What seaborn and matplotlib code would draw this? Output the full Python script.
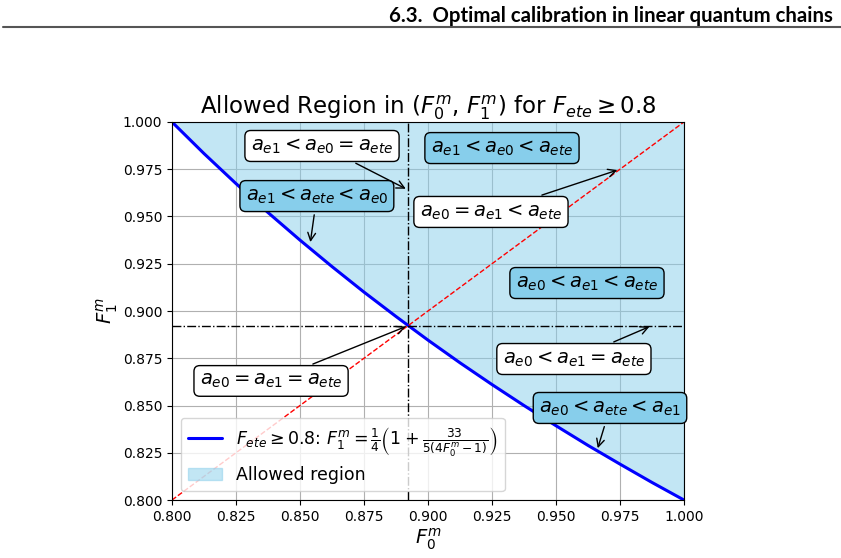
import numpy as np
import pandas as pd
import matplotlib
matplotlib.use('Agg')
import matplotlib.pyplot as plt
import seaborn as sns

# values
f0_vals = [0.800, 0.8125, 0.825, 0.8375, 0.850, 0.8625, 0.875, 0.8875, 0.900,
           0.9125, 0.925, 0.9375, 0.950, 0.9625, 0.975, 0.9875, 1.000]
f1_vals = [1.000, 0.9833, 0.9674, 0.9521, 0.9375, 0.9235, 0.910, 0.8971, 0.8846,
           0.8726, 0.8611, 0.850, 0.8393, 0.8289, 0.8190, 0.8093, 0.800]
diag_vals = [0.800, 1.000]
cross_val = 0.8923

region_labels = [r'$a_{e1} < a_{e0} = a_{ete}$', r'$a_{e1} < a_{e0} < a_{ete}$',
                 r'$a_{e1} < a_{ete} < a_{e0}$', r'$a_{e0} = a_{e1} < a_{ete}$',
                 r'$a_{e0} < a_{e1} < a_{ete}$', r'$a_{e0} < a_{e1} = a_{ete}$',
                 r'$a_{e0} < a_{ete} < a_{e1}$', r'$a_{e0} = a_{e1} = a_{ete}$']

df = pd.DataFrame({'F0': f0_vals, 'F1': f1_vals})

sns.set_style('ticks')
plt.rcParams['font.family'] = ['DejaVu Sans']
plt.rcParams.update({'text.color': 'black', 'axes.labelcolor': 'black',
                     'xtick.color': 'black', 'ytick.color': 'black'})

fig = plt.figure(figsize=(8.41, 5.58), dpi=100)
ax = fig.add_axes([0.2045, 0.1039, 0.6088, 0.6775])

# page header
fig.text(0.990, 0.972, '6.3.  Optimal calibration in linear quantum chains',
         ha='right', va='center', fontsize=14.7, fontweight='bold',
         family=['Lato', 'DejaVu Sans'])
fig.add_artist(plt.Line2D([0.003, 1.0], [0.951, 0.951], color='#555555', lw=1.5))

ax.fill_between(df['F0'], df['F1'], 1.0, color='skyblue', alpha=0.5,
                label='Allowed region')
sns.lineplot(data=df, x='F0', y='F1', color='blue', lw=2.2, ax=ax,
             label=r'$F_{ete} \geq 0.8$: $F_1^m = \frac{1}{4}\left(1 + \frac{33}{5(4F_0^m - 1)}\right)$')
ax.plot(diag_vals, diag_vals, 'r--', lw=1)
ax.axvline(cross_val, color='black', ls='-.', lw=1)
ax.axhline(cross_val, color='black', ls='-.', lw=1)

white = dict(boxstyle='round,pad=0.3', fc='white', ec='black')
blue = dict(boxstyle='round,pad=0.3', fc='skyblue', ec='black')
arr = dict(arrowstyle='->', color='black', lw=1)

ax.annotate(region_labels[0], xy=(cross_val, 0.964), xytext=(0.8586, 0.9873),
            ha='center', va='center', fontsize=14, bbox=white, arrowprops=arr)
ax.text(0.9289, 0.9862, region_labels[1], ha='center', va='center', fontsize=14, bbox=blue)
ax.annotate(region_labels[2], xy=(0.8539, 0.935), xytext=(0.8566, 0.9608),
            ha='center', va='center', fontsize=14, bbox=blue, arrowprops=arr)
ax.annotate(region_labels[3], xy=(0.975, 0.975), xytext=(0.9246, 0.9524),
            ha='center', va='center', fontsize=14, bbox=white, arrowprops=arr)
ax.text(0.9621, 0.9148, region_labels[4], ha='center', va='center', fontsize=14, bbox=blue)
ax.annotate(region_labels[5], xy=(0.9875, cross_val), xytext=(0.957, 0.8746),
            ha='center', va='center', fontsize=14, bbox=white, arrowprops=arr)
ax.annotate(region_labels[6], xy=(0.966, 0.826), xytext=(0.9711, 0.8487),
            ha='center', va='center', fontsize=14, bbox=blue, arrowprops=arr)
ax.annotate(region_labels[7], xy=(cross_val, cross_val), xytext=(0.8387, 0.863),
            ha='center', va='center', fontsize=14, bbox=white, arrowprops=arr)

ax.set_xlim(0.8, 1.0)
ax.set_ylim(0.8, 1.0)
ax.set_xticks(np.arange(0.8, 1.0001, 0.025))
ax.set_yticks(np.arange(0.8, 1.0001, 0.025))
ax.xaxis.set_major_formatter(matplotlib.ticker.FormatStrFormatter('%.3f'))
ax.yaxis.set_major_formatter(matplotlib.ticker.FormatStrFormatter('%.3f'))
ax.tick_params(labelsize=10)
ax.grid(True, color='#b0b0b0', lw=0.8)
ax.set_xlabel(r'$F_0^m$', fontsize=14, labelpad=2)
ax.set_ylabel(r'$F_1^m$', fontsize=14, labelpad=2)
ax.set_title(r'Allowed Region in ($F_0^m$, $F_1^m$) for $F_{ete} \geq 0.8$', fontsize=16.5)
for s in ax.spines.values():
    s.set_color('black')

h, l = ax.get_legend_handles_labels()
ax.legend(h[::-1], l[::-1], loc='lower left', fontsize=12.5, framealpha=0.8)

fig.savefig('out.png', dpi=100)
